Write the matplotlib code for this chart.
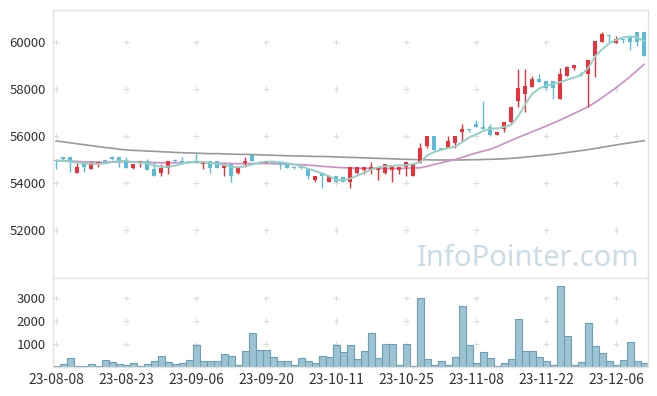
import matplotlib
matplotlib.use('Agg')
import matplotlib.pyplot as plt
import numpy as np

plt.rcParams['font.family'] = ['Noto Sans CJK KR', 'DejaVu Sans']

# 일봉 데이터 (시가, 고가, 저가, 종가)
opens = [55000, 55100, 55100, 54450, 54800, 54600, 54800, 55000, 55100, 55100,
         54950, 54650, 54850, 54950, 54600, 54450, 54650, 55000, 54950, 54950,
         54900, 54800, 54950, 54950, 54650, 54800, 54450, 54850, 55200, 54900,
         54850, 54950, 54850, 54850, 54700, 54700, 54650, 54150, 54450, 54050,
         54300, 54250, 54050, 54450, 54550, 54550, 54550, 54450, 54550, 54550,
         54700, 54300, 54850, 55600, 56000, 55500, 55500, 55700, 56200, 56300,
         56500, 56400, 56400, 56050, 56300, 56600, 57500, 57800, 58100, 58450,
         58350, 58350, 57600, 58550, 58900, 58650, 58650, 59400, 60000, 60300,
         59950, 60150, 60250, 60450, 60450]
highs = [55000, 55100, 55100, 54850, 54800, 54950, 54900, 55000, 55150, 55100,
         55100, 54800, 54950, 55050, 54900, 54800, 54950, 55050, 55100, 54950,
         55300, 54950, 54950, 54950, 54800, 54800, 54750, 55100, 55200, 54950,
         54950, 54950, 54850, 54850, 54700, 54700, 54650, 54300, 54450, 54300,
         54300, 54250, 54700, 54700, 54700, 54900, 54700, 54800, 54700, 54700,
         54900, 54800, 55700, 56000, 56000, 55500, 56000, 56000, 56500, 56300,
         56700, 57500, 56500, 56200, 56600, 57250, 58850, 58850, 58550, 58650,
         58350, 58350, 58900, 59000, 59050, 58750, 59250, 60050, 60450, 60300,
         60250, 60150, 60250, 60450, 60450]
lows = [54600, 55000, 54500, 54450, 54500, 54600, 54700, 54900, 55000, 54700,
        54650, 54600, 54700, 54550, 54300, 54300, 54400, 54900, 54850, 54850,
        54850, 54600, 54450, 54650, 54300, 54050, 54400, 54700, 54950, 54800,
        54850, 54850, 54600, 54650, 54600, 54600, 54200, 54050, 53800, 54050,
        54050, 54050, 53800, 54400, 54400, 54400, 54150, 54400, 54050, 54400,
        54300, 54300, 54850, 55500, 55400, 55400, 55500, 55500, 55800, 56200,
        56400, 56300, 56000, 56050, 56200, 56500, 57250, 57050, 58100, 58300,
        58000, 57600, 57600, 58550, 58800, 58550, 57250, 58500, 60000, 60000,
        59950, 59950, 59650, 59850, 59400]
closes = [54950, 55050, 54900, 54700, 54700, 54800, 54900, 54950, 55050, 54950,
          54650, 54800, 54950, 54550, 54300, 54650, 54950, 54950, 54850, 54850,
          54850, 54950, 54650, 54650, 54800, 54300, 54650, 54950, 54950, 54900,
          54950, 54850, 54800, 54650, 54650, 54650, 54300, 54300, 54300, 54300,
          54050, 54050, 54700, 54700, 54700, 54700, 54700, 54800, 54700, 54700,
          54900, 54800, 55500, 56000, 55400, 55400, 55800, 56000, 56300, 56250,
          56400, 56300, 56050, 56200, 56600, 57250, 58050, 58150, 58450, 58300,
          58050, 58050, 58650, 58950, 59050, 58600, 59250, 60050, 60350, 60250,
          60150, 60100, 60000, 60000, 59400]

# 거래량
volumes = [50, 120, 380, 30, 30, 120, 30, 300, 200, 120,
           70, 160, 30, 120, 250, 470, 200, 120, 160, 300,
           950, 250, 250, 250, 550, 470, 70, 680, 1470, 730,
           730, 420, 250, 250, 70, 380, 250, 160, 470, 420,
           950, 640, 950, 330, 680, 1470, 380, 990, 990, 70,
           990, 30, 3000, 330, 70, 250, 70, 420, 2650, 950,
           160, 640, 380, 30, 160, 330, 2080, 680, 680, 420,
           250, 70, 3520, 1340, 70, 200, 1900, 900, 600, 250,
           70, 290, 1080, 250, 160]

# 이동평균선
ma5 = [54960, 54950, 54920, 54880, 54850, 54830, 54820, 54850, 54900, 54950,
       54950, 54900, 54880, 54850, 54750, 54700, 54700, 54750, 54830, 54900,
       54920, 54900, 54870, 54820, 54780, 54700, 54680, 54720, 54800, 54880,
       54920, 54920, 54900, 54850, 54800, 54720, 54620, 54520, 54420, 54300,
       54150, 54130, 54200, 54320, 54450, 54580, 54680, 54720, 54740, 54760,
       54770, 54820, 54900, 55180, 55330, 55420, 55500, 55560, 55750, 55950,
       56080, 56220, 56320, 56330, 56400, 56480, 56850, 57350, 57800, 58030,
       58150, 58220, 58300, 58400, 58500, 58600, 58900, 59400, 59700, 59950,
       60100, 60200, 60250, 60200, 60040]
ma20 = [54970, 54960, 54950, 54930, 54910, 54910, 54900, 54900, 54910, 54910,
        54910, 54900, 54900, 54890, 54880, 54870, 54870, 54870, 54880, 54890,
        54890, 54880, 54870, 54860, 54850, 54840, 54830, 54830, 54840, 54840,
        54840, 54830, 54820, 54810, 54800, 54790, 54770, 54750, 54720, 54700,
        54680, 54660, 54650, 54640, 54630, 54630, 54630, 54630, 54630, 54630,
        54640, 54650, 54660, 54720, 54800, 54870, 54940, 55010, 55100, 55200,
        55290, 55370, 55440, 55560, 55690, 55820, 55950, 56070, 56190, 56310,
        56430, 56560, 56690, 56830, 56970, 57110, 57260, 57440, 57640, 57850,
        58070, 58300, 58540, 58800, 59060]
ma60 = [55800, 55760, 55720, 55680, 55640, 55600, 55560, 55520, 55490, 55450,
        55420, 55400, 55390, 55370, 55360, 55340, 55330, 55310, 55300, 55290,
        55280, 55270, 55260, 55260, 55250, 55240, 55230, 55230, 55220, 55210,
        55200, 55190, 55180, 55170, 55160, 55160, 55150, 55140, 55140, 55130,
        55120, 55110, 55100, 55090, 55080, 55070, 55060, 55050, 55040, 55030,
        55020, 55010, 55000, 55000, 54990, 54990, 54990, 54990, 54990, 55000,
        55000, 55010, 55020, 55030, 55040, 55060, 55080, 55110, 55140, 55170,
        55200, 55230, 55270, 55310, 55350, 55390, 55430, 55480, 55530, 55580,
        55630, 55680, 55720, 55770, 55810]

tick_pos = [0, 10, 20, 30, 40, 50, 60, 70, 80]
tick_labels = ['23-08-08', '23-08-23', '23-09-06', '23-09-20', '23-10-11',
               '23-10-25', '23-11-08', '23-11-22', '23-12-06']

UP = '#ec3238'
DOWN = '#5cbcd8'
FRAME = '#e2e2e2'

fig = plt.figure(figsize=(6.57, 3.96), dpi=100)
ax = fig.add_axes([53 / 657, 1 - 278 / 396, 595 / 657, 268 / 396])
axv = fig.add_axes([53 / 657, 1 - 367 / 396, 595 / 657, 89 / 396])

x = np.arange(len(closes))

# 캔들
for i in x:
    o, h, l, c = opens[i], highs[i], lows[i], closes[i]
    col = UP if c > o else DOWN
    ax.vlines(i, l, h, color=col, linewidth=1.0, zorder=3)
    body = max(abs(c - o), 25)
    ax.bar(i, body, bottom=min(o, c), width=0.62, color=col, linewidth=0, zorder=3)

ax.plot(x, ma60, color='#999999', linewidth=1.2, zorder=2)
ax.plot(x, ma20, color='#cc8ec9', linewidth=1.2, zorder=2)
ax.plot(x, ma5, color='#94d0c6', linewidth=1.4, zorder=4)

ax.set_xlim(-0.45, 84.55)
ax.set_ylim(49970, 61370)
ax.set_yticks([52000, 54000, 56000, 58000, 60000])
ax.set_xticks([])

# 워터마크 (픽셀 좌표)
ax.text(640, 396 - 266, 'InfoPointer.com', transform=None, fontsize=21,
        color='#cadce6', ha='right', va='baseline', family='Noto Sans', zorder=1)

# 거래량
axv.bar(x, volumes, width=1.0, color='#9dc3d3', edgecolor='#6c9fb6', linewidth=0.8)
axv.set_xlim(-0.45, 84.55)
axv.set_ylim(0, 3870)
axv.set_yticks([1000, 2000, 3000])
axv.set_xticks(tick_pos)
axv.set_xticklabels(tick_labels)

# 격자 대신 '+' 표시
for a, ys in ((ax, [52000, 54000, 56000, 58000, 60000]), (axv, [1000, 2000, 3000])):
    gx, gy = np.meshgrid(tick_pos, ys)
    a.scatter(gx.ravel(), gy.ravel(), marker='+', s=14, color='#dddddd',
              linewidths=0.8, zorder=0)
    for s in a.spines.values():
        s.set_color(FRAME)
        s.set_linewidth(1.0)
    a.tick_params(length=0, labelsize=9.5, labelcolor='#333333', pad=5)

axv.tick_params(axis='x', labelsize=10, pad=4)
ax.spines['bottom'].set_visible(False)

fig.savefig('out.png', dpi=100, facecolor='white')
